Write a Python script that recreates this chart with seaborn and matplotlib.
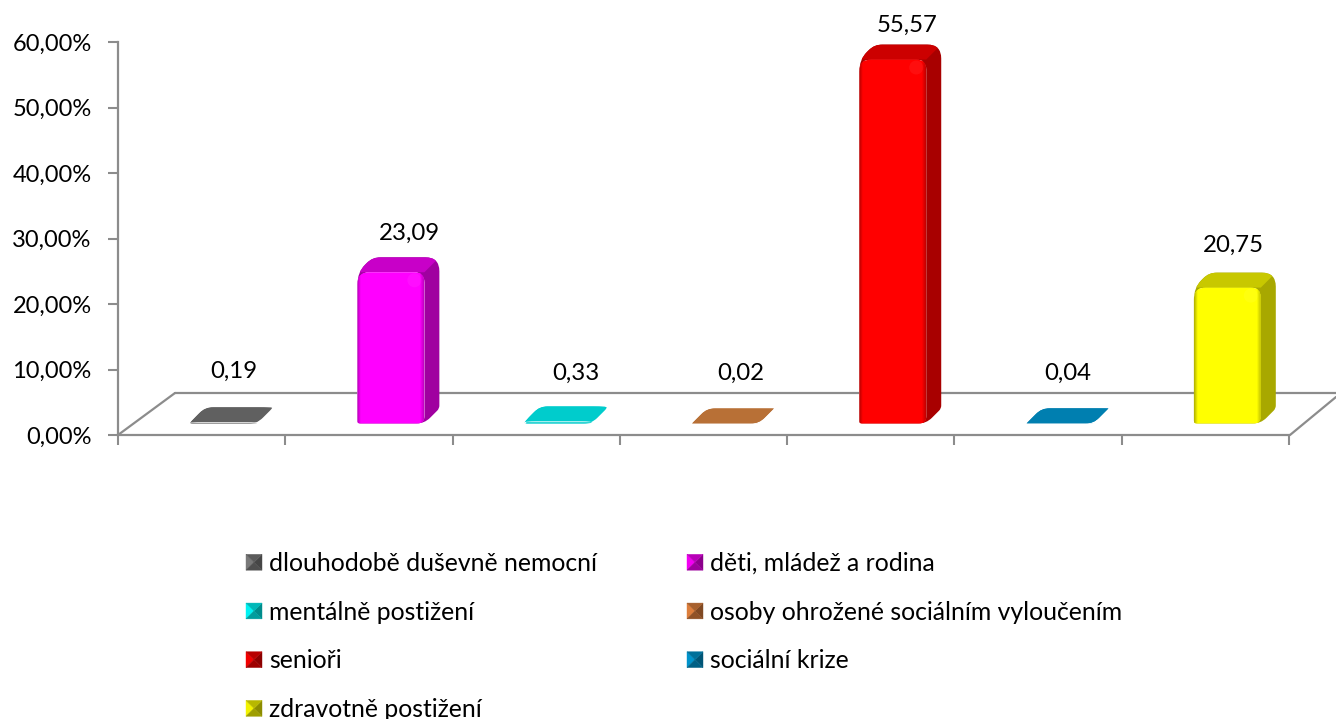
import numpy as np
import pandas as pd
import matplotlib
matplotlib.use('Agg')
import matplotlib.pyplot as plt
import seaborn as sns
from matplotlib.path import Path
from matplotlib.patches import PathPatch, Polygon, Rectangle
from matplotlib.lines import Line2D
from matplotlib.legend_handler import HandlerBase
from matplotlib.transforms import Affine2D

# ---------- data ----------
categories = ['dlouhodobě duševně nemocní', 'děti, mládež a rodina', 'mentálně postižení',
              'osoby ohrožené sociálním vyloučením', 'senioři', 'sociální krize', 'zdravotně postižení']
values = [0.19, 23.09, 0.33, 0.02, 55.57, 0.04, 20.75]
value_labels = ['0,19', '23,09', '0,33', '0,02', '55,57', '0,04', '20,75']
front_colors = ['#7f7f7f', '#ff00ff', '#00ffff', '#e8853f', '#ff0000', '#009bd6', '#ffff00']
top_colors = ['#606060', '#c800c8', '#00cccc', '#b87036', '#cc0000', '#007fb0', '#c8c800']
side_colors = ['#4c4c4c', '#a000a0', '#00a0a0', '#905528', '#a80000', '#006690', '#a8a800']
y_ticks = [0, 10, 20, 30, 40, 50, 60]

W, H = 1336, 719
FONT = 'Lato'

sns.set_theme(style='white')
plt.rcParams['font.family'] = [FONT, 'DejaVu Sans']
plt.rcParams['text.color'] = 'black'

fig = plt.figure(figsize=(W / 100, H / 100), dpi=100)
ax = fig.add_axes([118 / W, 1 - 435 / H, 1171 / W, 393 / H])

# image pixels (y going down) -> display
px = Affine2D().scale(1, -1).translate(0, H)

df = pd.DataFrame({'kategorie': categories, 'podil': values})
sns.barplot(data=df, x='kategorie', y='podil', hue='kategorie', order=categories,
            hue_order=categories, palette=front_colors, width=0.4, dodge=False,
            legend=False, ax=ax, saturation=1, zorder=3)

ax.set_xlim(-0.5, 6.5)
ax.set_ylim(0, 60)
ax.set_xlabel('')
ax.set_ylabel('')
ax.set_xticks(np.arange(-0.5, 7, 1))
ax.set_xticklabels([])
ax.set_yticks(y_ticks)
ax.set_yticklabels([f'{v:.2f}'.replace('.', ',') + '%' for v in y_ticks], fontsize=17, color='black')
ax.tick_params(axis='both', direction='out', length=7, width=1.5, color='#8c8c8c', left=True, bottom=True, pad=12)
sns.despine(ax=ax)
for s in ['left', 'bottom']:
    ax.spines[s].set_color('#8c8c8c')
    ax.spines[s].set_linewidth(1.6)

# floor of the 3D plot
for xs, ys in [([118, 175], [435, 393]), ([175, 1336], [393, 393]), ([1290, 1336], [435, 397])]:
    ax.add_line(Line2D(xs, ys, color='#8c8c8c', lw=1.6, transform=px, clip_on=False, zorder=1))


def rounded(points, radii):
    # closed path through points with each corner rounded
    verts, codes = [], []
    n = len(points)
    for i in range(n):
        p = np.array(points[i], float)
        a = np.array(points[i - 1], float)
        b = np.array(points[(i + 1) % n], float)
        r1 = min(radii[i], np.linalg.norm(a - p) / 2)
        r2 = min(radii[i], np.linalg.norm(b - p) / 2)
        p1 = p + (a - p) / max(np.linalg.norm(a - p), 1e-6) * r1
        p2 = p + (b - p) / max(np.linalg.norm(b - p), 1e-6) * r2
        verts += [p1, p, p2]
        codes += [Path.MOVETO if i == 0 else Path.LINETO, Path.CURVE3, Path.CURVE3]
    verts.append(verts[0])
    codes.append(Path.CLOSEPOLY)
    return Path(verts, codes)


DX, DY = 15, 15
shift_x = 22 / 167.4
shift_y = 11.5 / 6.55
bars = [p for p in ax.patches if isinstance(p, Rectangle)]

# manual nudges for the value labels (x, y in pixels from back top centre)
nudge = [(3, -36), (11, -24), (10, -33), (8, -35), (7, -19), (0, -35), (-1, -27)]

for i, bar in enumerate(bars):
    bar.set_x(bar.get_x() + shift_x)
    bar.set_y(bar.get_y() + shift_y)
    x0, y0 = bar.get_x(), bar.get_y()
    x1, y1 = x0 + bar.get_width(), y0 + bar.get_height()
    (L, T), (R, B) = px.inverted().transform(ax.transData.transform([(x0, y1), (x1, y0)]))
    flat = (B - T) < 4

    outline = [(L, B), (L, T), (L + DX, T - DY), (R + DX, T - DY), (R + DX, B - DY), (R, B)]
    sil = PathPatch(rounded(outline, [3, 12, 8, 14, 3, 8]), fc=side_colors[i], ec='none',
                    transform=px, clip_on=False, zorder=2.5)
    ax.add_patch(sil)
    top = Polygon([(L, T), (L + DX, T - DY), (R + DX, T - DY), (R, T)], fc=top_colors[i], ec='none',
                  transform=px, zorder=2.6)
    ax.add_patch(top)
    top.set_clip_path(sil)
    top.set_clip_on(True)

    if flat:
        # flat bars only show their top
        bar.set_facecolor(top_colors[i])
        sil.set_facecolor(top_colors[i])

    face = PathPatch(rounded([(L, B), (L, T), (R, T), (R, B)], [2, 12, 10, 7]), fc='none', ec='none',
                     transform=px, clip_on=False, zorder=2.7)
    ax.add_patch(face)
    bar.set_clip_path(face)

    # soft darker edges on the front face
    if not flat:
        col = np.array(matplotlib.colors.to_rgb(front_colors[i]))
        t = np.linspace(0, 1, 68)
        shade = np.clip(np.minimum(0.72 + t * 5.5, 0.78 + (1 - t) * 4.0), 0, 1)
        grad = (shade[None, :, None] * col[None, None, :])
        im = ax.imshow(grad, extent=(x0, x1, y0, y1), aspect='auto', zorder=3.1, interpolation='bilinear')
        im.set_clip_path(face)
        spot = plt.Circle((R - 10, T + 8), 7, fc='white', ec='none', alpha=0.06, transform=px, zorder=3.2)
        ax.add_patch(spot)
        spot.set_clip_path(face)

    nx, ny = nudge[i]
    ax.text((L + R + DX) / 2 + nx, T - DY + ny, value_labels[i], transform=px, ha='center', va='center',
            fontsize=17.3, color='black', clip_on=False, zorder=5)

ax.set_xlim(-0.5, 6.5)
ax.set_ylim(0, 60)


class PyramidHandler(HandlerBase):
    # little bevelled square used by the legend
    def create_artists(self, legend, orig, xd, yd, width, height, fontsize, trans):
        i = orig.idx
        base = np.array(matplotlib.colors.to_rgb(front_colors[i]))
        x0, y0, x1, y1 = -xd, -yd, -xd + width, -yd + height
        cx, cy = (x0 + x1) / 2, (y0 + y1) / 2
        faces = [([(x0, y0), (x0, y1), (cx, cy)], 0.95),
                 ([(x1, y0), (x1, y1), (cx, cy)], 0.55),
                 ([(x0, y1), (x1, y1), (cx, cy)], 0.72),
                 ([(x0, y0), (x1, y0), (cx, cy)], 0.62)]
        return [Polygon(pts, fc=tuple(base * k), ec=tuple(base * k), lw=0.3, transform=trans) for pts, k in faces]


handles = []
for i in range(len(categories)):
    h = Rectangle((0, 0), 1, 1)
    h.idx = i
    handles.append(h)

# column fill order gives the row-wise order of the original
order = [0, 2, 4, 6, 1, 3, 5]
FS = 17.85
fs_px = FS * 100 / 72
leg = fig.legend([handles[i] for i in order], [categories[i] for i in order], ncol=2,
                 handler_map={Rectangle: PyramidHandler()},
                 loc='upper left', bbox_to_anchor=(246 / W, 1 - 552 / H), bbox_transform=fig.transFigure,
                 frameon=False, fontsize=FS, borderpad=0, borderaxespad=0,
                 handlelength=16 / fs_px, handleheight=15 / fs_px, handletextpad=7 / fs_px,
                 columnspacing=90 / fs_px, labelspacing=25.7 / fs_px)

fig.savefig('out.png', dpi=100)
